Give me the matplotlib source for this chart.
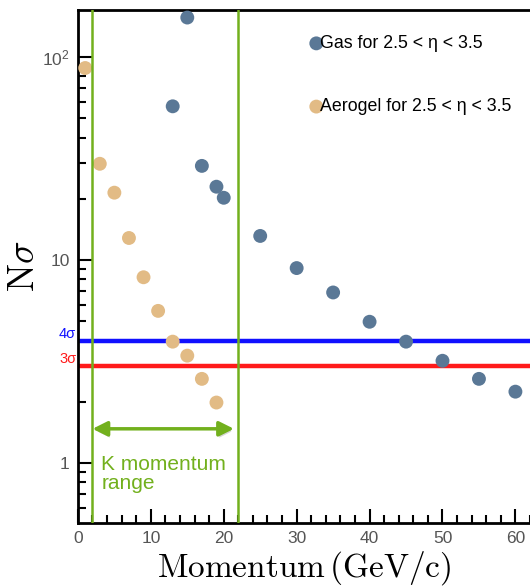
import numpy as np
import matplotlib as mpl
import matplotlib.pyplot as plt
import matplotlib.ticker as ticker
import matplotlib.patheffects as pe

# Kaon/pion separation power vs momentum
gas_p = [13, 15, 17, 19, 20, 25, 30, 35, 40, 45, 50, 55, 60]
gas_nsigma = [57, 156, 29, 22.9, 20.2, 13.1, 9.1, 6.9, 4.95, 3.95, 3.18, 2.59, 2.24]

aerogel_p = [1, 3, 5, 7, 9, 11, 13, 15, 17, 19]
aerogel_nsigma = [88, 29.7, 21.4, 12.8, 8.2, 5.6, 3.95, 3.37, 2.59, 1.98]

sigma_levels = [4, 3]
sigma_labels = ["4σ", "3σ"]
sigma_colors = ["#1010ff", "#ff1a1a"]

k_range = [2, 22]

GAS_COLOR = "#5a7896"
AEROGEL_COLOR = "#e2bb85"
GREEN = "#72b01d"


def set_rc_params():
    params = {
        "font.family": "Liberation Sans",
        "mathtext.fontset": "cm",
        "axes.linewidth": 2,
        "xtick.direction": "in",
        "ytick.direction": "in",
        "xtick.color": "black",
        "ytick.color": "black",
        "xtick.labelcolor": "#555555",
        "ytick.labelcolor": "#555555",
        "xtick.labelsize": 12.5,
        "ytick.labelsize": 12.5,
    }
    for p in params:
        mpl.rcParams[p] = params[p]


def main():
    set_rc_params()
    fig = plt.figure(figsize=(5.30, 5.86), dpi=100)
    ax = fig.add_axes([0.147, 0.1075, 0.853, 0.8755])

    ax.set_yscale("log")
    ax.set_xlim(0, 62)
    ax.set_ylim(0.505, 170)

    # threshold lines
    for lvl, lab, col in zip(sigma_levels, sigma_labels, sigma_colors):
        ax.axhline(lvl, color=col, lw=3.2, zorder=2)
        ax.text(-0.004, lvl, lab, color=col, fontsize=10.5, ha="right", va="bottom",
                transform=ax.get_yaxis_transform())

    ax.scatter(gas_p, gas_nsigma, s=100, color=GAS_COLOR, edgecolors="none",
               zorder=3, label="Gas for 2.5 < η < 3.5")
    ax.scatter(aerogel_p, aerogel_nsigma, s=100, color=AEROGEL_COLOR, edgecolors="none",
               zorder=3, label="Aerogel for 2.5 < η < 3.5")

    # kaon momentum range
    for xv in k_range:
        ax.axvline(xv, color=GREEN, lw=1.8, zorder=4)
    ax.annotate("", xy=(k_range[0], 1.47), xytext=(k_range[1] - 0.6, 1.47),
                arrowprops=dict(arrowstyle="<|-|>", color=GREEN, lw=2.5,
                                mutation_scale=22, shrinkA=0, shrinkB=0,
                                path_effects=[pe.withSimplePatchShadow(offset=(1, -2), shadow_rgbFace="#999999", alpha=0.4)]),
                zorder=4)
    ax.text(3.2, 0.88, "K momentum\nrange", color=GREEN, fontsize=15, ha="left", va="center",
            linespacing=1.05)

    ax.legend(loc="upper left", bbox_to_anchor=(0.488, 0.965), frameon=False,
              handletextpad=-0.4, labelspacing=2.6, fontsize=12.8, borderaxespad=0,
              handlelength=1.2)

    # axes formatting
    ax.spines["right"].set_visible(False)
    ax.xaxis.set_major_locator(ticker.MultipleLocator(10))
    ax.xaxis.set_minor_locator(ticker.MultipleLocator(2))
    ax.yaxis.set_major_locator(ticker.FixedLocator([1, 10, 100]))
    ax.yaxis.set_major_formatter(ticker.FixedFormatter(["1", "10", "$\\mathregular{10^2}$"]))
    ax.yaxis.set_minor_locator(ticker.LogLocator(base=10, subs=np.arange(2, 10)))
    ax.yaxis.set_minor_formatter(ticker.NullFormatter())
    ax.tick_params(which="major", length=10, width=1.5, top=False, pad=6)
    ax.tick_params(which="minor", length=6, width=1.5, top=False)

    ax.set_xlabel(r"$\mathrm{Momentum\,(GeV/c)}$", fontsize=24, labelpad=2)
    ax.set_ylabel(r"$\mathrm{N}\sigma$", fontsize=27, labelpad=0)

    fig.savefig("out.png", dpi=100)
    plt.close(fig)


if __name__ == "__main__":
    main()
